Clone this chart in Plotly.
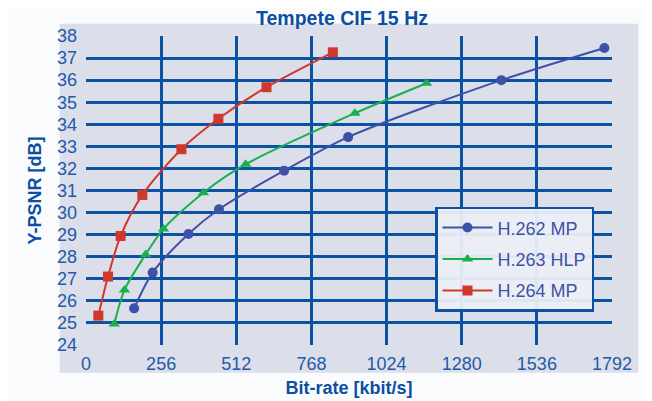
import plotly.graph_objects as go

# Data
h262_rate = [164, 227, 349, 453, 675, 893, 1415, 1766]
h262_psnr = [25.66, 27.28, 29.03, 30.15, 31.90, 33.42, 36.00, 37.46]

h263_rate = [96, 131, 203, 264, 400, 544, 916, 1160]
h263_psnr = [24.95, 26.49, 28.10, 29.26, 30.90, 32.19, 34.50, 35.86]

h264_rate = [42, 75, 118, 192, 325, 451, 615, 841]
h264_psnr = [25.33, 27.10, 28.94, 30.80, 32.87, 34.25, 35.68, 37.26]

x_ticks = [0, 256, 512, 768, 1024, 1280, 1536, 1792]
y_ticks = list(range(24, 39))

GRID = "#0B52A3"
TXT = "#1F5AA8"

# the page body has an 8px margin, so the figure is sized 644x393
W, H = 644, 393

fig = go.Figure()
fig.add_trace(go.Scatter(
    x=h262_rate, y=h262_psnr, name="H.262 MP", mode="lines+markers",
    line=dict(color="#3F50A8", width=2, shape="spline", smoothing=0.8),
    marker=dict(symbol="circle", size=10, color="#3F50A8"), legendgroup="a"))
fig.add_trace(go.Scatter(
    x=h263_rate, y=h263_psnr, name="H.263 HLP", mode="lines+markers",
    line=dict(color="#18B04A", width=2, shape="spline", smoothing=0.8),
    marker=dict(symbol="triangle-up", size=10, color="#18B04A"), legendgroup="b"))
fig.add_trace(go.Scatter(
    x=h264_rate, y=h264_psnr, name="H.264 MP", mode="lines+markers",
    line=dict(color="#D0382B", width=2, shape="spline", smoothing=0.8),
    marker=dict(symbol="square", size=10, color="#D0382B"), legendgroup="c"))

fig.update_layout(
    width=W, height=H,
    margin=dict(l=78, r=40, t=28, b=56, autoexpand=False),
    paper_bgcolor="#FAFBFD",
    plot_bgcolor="#D5D9E7",
    font=dict(family="Liberation Sans, Arial, sans-serif", color=TXT, size=17),
    title=dict(text="<b>Tempete CIF 15 Hz</b>", x=334 / W, xanchor="center",
               y=1 - 10.5 / H, yanchor="middle",
               font=dict(size=19.5, color="#0B4EA2")),
    showlegend=True,
    legend=dict(x=0.6635, y=0.447, xanchor="left", yanchor="top",
                bgcolor="rgba(236,238,245,0.95)", bordercolor=GRID, borderwidth=2.5,
                font=dict(size=18, color="#3D52A6"), tracegroupgap=5,
                itemwidth=50),
    shapes=[dict(type="rect", xref="paper", yref="paper", x0=-0.05, x1=1.05,
                 y0=-0.09, y1=1.04, fillcolor="#DCDFEA", line=dict(width=0),
                 layer="below")],
)
fig.update_xaxes(
    range=[0, 1792], tickvals=x_ticks, ticktext=[str(v) for v in x_ticks],
    showgrid=True, gridcolor=GRID, gridwidth=2.5, zeroline=False,
    showline=False, ticks="", ticklabelstandoff=6, automargin=False,
    tickfont=dict(size=18, color=TXT),
    title=dict(text="<b>Bit-rate [kbit/s]</b>", font=dict(size=18, color="#0B4EA2"),
               standoff=8),
)
fig.update_yaxes(
    range=[24, 38], tickvals=y_ticks, ticktext=[str(v) for v in y_ticks],
    showgrid=True, gridcolor=GRID, gridwidth=2.5, zeroline=False,
    showline=False, ticks="", ticklabelstandoff=8, automargin=False,
    tickfont=dict(size=18, color=TXT),
    title=dict(text="<b>Y-PSNR [dB]</b>", font=dict(size=18, color="#0B4EA2"),
               standoff=10),
)

fig.write_html("out.html")
